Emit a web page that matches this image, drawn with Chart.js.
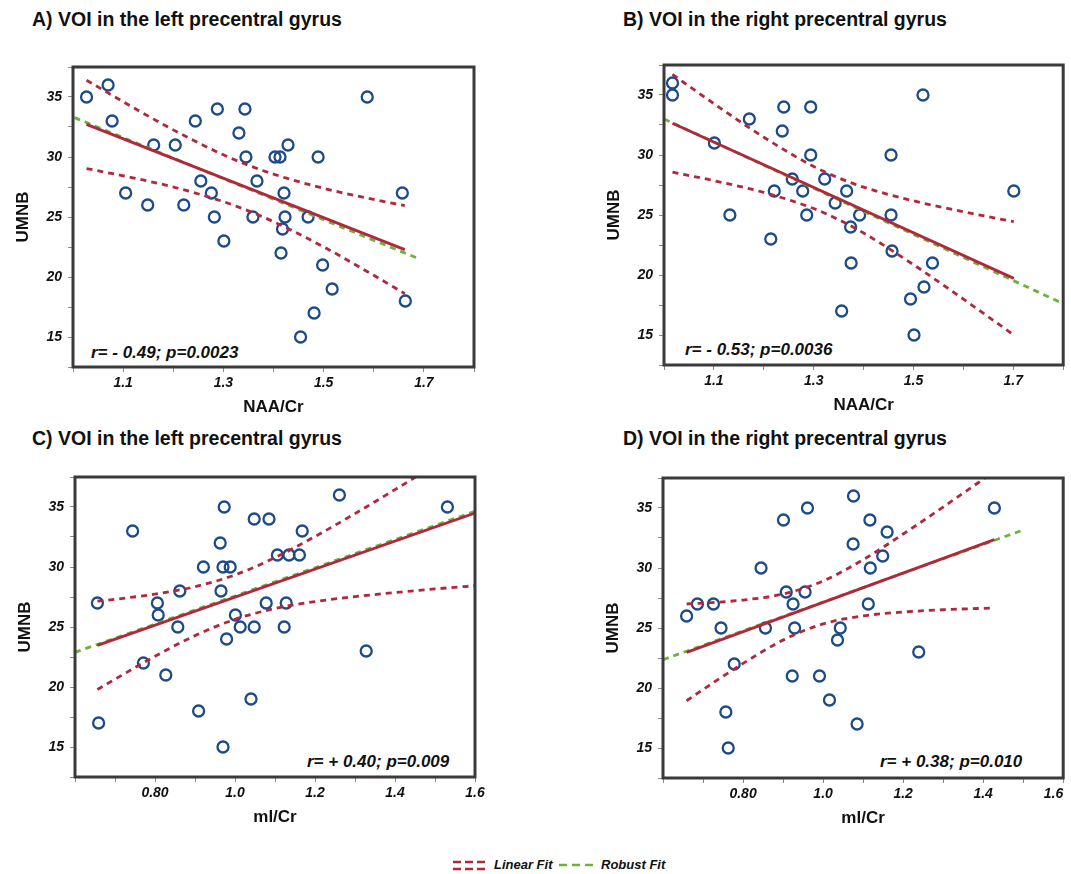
<!DOCTYPE html>
<html><head><meta charset="utf-8">
<script src="https://cdn.jsdelivr.net/npm/chart.js@4.4.1/dist/chart.umd.min.js"></script>
<style>
html,body{margin:0;padding:0;background:#fff}
body{width:1071px;height:874px;position:relative;overflow:hidden;font-family:"Liberation Sans",Arial,sans-serif;color:#111}
.ttl{position:absolute;font-weight:bold;font-size:19.5px;line-height:20px;white-space:nowrap}
.ann{position:absolute;font-weight:bold;font-style:italic;font-size:17px;line-height:18px;white-space:nowrap}
.leg{position:absolute;font-weight:bold;font-style:italic;font-size:13px;line-height:14px;white-space:nowrap}
canvas{position:absolute}
</style></head>
<body>
<div class="ttl" style="left:32px;top:9px">A) VOI in the left precentral gyrus</div>
<div class="ttl" style="left:623px;top:9px">B) VOI in the right precentral gyrus</div>
<div class="ttl" style="left:32px;top:428px">C) VOI in the left precentral gyrus</div>
<div class="ttl" style="left:623px;top:428px">D) VOI in the right precentral gyrus</div>

<div class="ann" style="left:91px;top:344px">r= - 0.49; p=0.0023</div>
<div class="ann" style="left:685px;top:341px">r= - 0.53; p=0.0036</div>
<div class="ann" style="left:307px;top:753px">r= + 0.40; p=0.009</div>
<div class="ann" style="left:880px;top:753px">r= + 0.38; p=0.010</div>

<svg style="position:absolute;left:452px;top:858px" width="38" height="14">
  <line x1="1" y1="4" x2="37" y2="4" stroke="#b0283c" stroke-width="2.5" stroke-dasharray="8,4"/>
  <line x1="1" y1="11" x2="37" y2="11" stroke="#b0283c" stroke-width="2.5" stroke-dasharray="8,4"/>
</svg>
<div class="leg" style="left:494px;top:858px">Linear Fit</div>
<svg style="position:absolute;left:558px;top:858px" width="36" height="14">
  <line x1="1" y1="7" x2="35" y2="7" stroke="#6bb33a" stroke-width="2.5" stroke-dasharray="8,5"/>
</svg>
<div class="leg" style="left:601px;top:858px">Robust Fit</div>

<script>
// ---------- tick labels ----------
const yTickValues = [15, 20, 25, 30, 35];
const xTickValuesNAA = [1.1, 1.3, 1.5, 1.7];
const xTickTextNAA = ['1.1', '1.3', '1.5', '1.7'];
const xTickValuesMI = [0.8, 1.0, 1.2, 1.4, 1.6];
const xTickTextMI = ['0.80', '1.0', '1.2', '1.4', '1.6'];

// ---------- Panel A : left precentral, NAA/Cr ----------
const aX = [1.027,1.070,1.078,1.105,1.149,1.161,1.204,1.221,1.244,1.255,1.276,1.282,1.288,1.301,1.331,1.343,1.345,1.359,1.367,1.403,1.413,1.415,1.418,1.421,1.423,1.429,1.454,1.469,1.481,1.489,1.498,1.517,1.587,1.657,1.663];
const aY = [35,36,33,27,26,31,31,26,33,28,27,25,34,23,32,34,30,25,28,30,30,22,24,27,25,31,15,25,17,30,21,19,35,27,18];
const aFitX = [1.027, 1.662];
const aFitY = [32.72, 22.28];
const aRobX = [1.003, 1.693];
const aRobY = [33.28, 21.47];
const aCiX  = [1.027, 1.1, 1.2, 1.3, 1.35, 1.4, 1.5, 1.6, 1.662];
const aCiUp = [36.40, 34.61, 32.26, 30.18, 29.31, 28.57, 27.39, 26.46, 25.95];
const aCiLo = [29.04, 28.43, 27.50, 26.28, 25.51, 24.61, 22.51, 20.14, 18.61];

// ---------- Panel B : right precentral, NAA/Cr ----------
const bX = [1.017,1.017,1.101,1.132,1.171,1.214,1.221,1.237,1.240,1.257,1.278,1.286,1.294,1.294,1.322,1.343,1.356,1.366,1.374,1.375,1.392,1.455,1.455,1.457,1.494,1.501,1.519,1.521,1.538,1.701];
const bY = [36,35,31,25,33,23,27,32,34,28,27,25,30,34,28,26,17,27,24,21,25,30,25,22,18,15,35,19,21,27];
const bFitX = [1.017, 1.701];
const bFitY = [32.64, 19.72];
const bRobX = [1.0, 1.796];
const bRobY = [33.0, 17.69];
const bCiX  = [1.017, 1.1, 1.2, 1.3, 1.35, 1.4, 1.5, 1.6, 1.701];
const bCiUp = [36.71, 34.28, 31.48, 29.04, 28.09, 27.32, 26.18, 25.27, 24.44];
const bCiLo = [28.57, 27.86, 26.88, 25.54, 24.61, 23.50, 20.86, 17.99, 15.00];

// ---------- Panel C : left precentral, mI/Cr ----------
const cX = [0.656,0.659,0.744,0.771,0.806,0.808,0.827,0.857,0.862,0.909,0.921,0.963,0.965,0.970,0.970,0.973,0.979,0.988,1.001,1.013,1.040,1.048,1.048,1.078,1.085,1.106,1.123,1.128,1.135,1.161,1.168,1.261,1.328,1.531];
const cY = [27,17,33,22,27,26,21,25,28,18,30,32,28,30,15,35,24,30,26,25,19,25,34,27,34,31,25,27,31,31,33,36,23,35];
const cFitX = [0.656, 1.6];
const cFitY = [23.47, 34.50];
const cRobX = [0.6, 1.6];
const cRobY = [22.89, 34.64];
const cCiX  = [0.656, 0.7, 0.8, 0.9, 1.0, 1.1, 1.2, 1.3, 1.4, 1.5, 1.6];
const cCiUp = [27.15, 27.31, 27.74, 28.36, 29.34, 30.78, 32.54, 34.45, 36.45, 38.49, 40.56];
const cCiLo = [19.79, 20.65, 22.56, 24.28, 25.64, 26.54, 27.12, 27.53, 27.87, 28.17, 28.44];

// ---------- Panel D : right precentral, mI/Cr ----------
const dX = [0.659,0.686,0.726,0.745,0.757,0.763,0.778,0.845,0.856,0.901,0.908,0.923,0.925,0.929,0.955,0.961,0.991,1.016,1.036,1.043,1.075,1.076,1.085,1.113,1.117,1.118,1.149,1.160,1.239,1.428];
const dY = [26,27,27,25,18,15,22,30,25,34,28,21,27,25,28,35,21,19,24,25,32,36,17,27,34,30,31,33,23,35];
const dFitX = [0.659, 1.428];
const dFitY = [22.97, 32.36];
const dRobX = [0.6, 1.502];
const dRobY = [22.36, 33.19];
const dCiX  = [0.659, 0.7, 0.8, 0.9, 1.0, 1.1, 1.2, 1.3, 1.428];
const dCiUp = [27.00, 27.07, 27.33, 27.83, 28.92, 30.69, 32.83, 35.08, 38.05];
const dCiLo = [18.94, 19.87, 22.05, 23.99, 25.34, 26.01, 26.33, 26.52, 26.67];

// ---------- styling ----------
const RED = '#b0283c', GREEN = '#6bb33a', BLUE = '#1d4b8a';
Chart.defaults.font.family = '"Liberation Sans", Arial, sans-serif';
Chart.defaults.color = '#111';

const pts = (xs, ys) => xs.map((x, i) => ({x, y: ys[i]}));

const framePlugin = {
  id: 'frame',
  afterDraw(chart) {
    const {ctx, chartArea: a} = chart;
    ctx.save();
    ctx.strokeStyle = '#3a3a3a';
    ctx.lineWidth = 3;
    ctx.strokeRect(a.left, a.top, a.right - a.left, a.bottom - a.top);
    ctx.restore();
  }
};

const PADL = 9, YW = 64, PADT = 10, XH = 55, PADB = 4;

function panel(o) {
  const cv = document.createElement('canvas');
  const w = (o.r - o.l) + PADL + YW + o.pr;
  const h = (o.b - o.t) + PADT + XH + PADB;
  cv.width = w; cv.height = h;
  cv.style.left = (o.l - PADL - YW) + 'px';
  cv.style.top = (o.t - PADT) + 'px';
  cv.style.width = w + 'px'; cv.style.height = h + 'px';
  document.body.appendChild(cv);

  const lineDs = (data, color, dash, extra) => Object.assign({
    type: 'scatter', data, showLine: true, borderColor: color, backgroundColor: color,
    borderWidth: 2.8, borderDash: dash, pointRadius: 0, pointHoverRadius: 0, fill: false
  }, extra || {});

  new Chart(cv, {
    type: 'scatter',
    data: {
      datasets: [
        lineDs(pts(o.ciX, o.ciUp), RED, [6, 5], {cubicInterpolationMode: 'monotone', tension: 0.4}),
        lineDs(pts(o.ciX, o.ciLo), RED, [6, 5], {cubicInterpolationMode: 'monotone', tension: 0.4}),
        lineDs(pts(o.fitX, o.fitY), RED, []),
        lineDs(pts(o.robX, o.robY), GREEN, [6, 5]),
        {
          type: 'scatter', data: pts(o.x, o.y), pointStyle: 'circle', pointRadius: 5.5,
          pointBorderWidth: 2.3, borderWidth: 2.3, borderColor: BLUE, backgroundColor: 'rgba(255,255,255,0)',
          pointBackgroundColor: 'rgba(255,255,255,0)', pointBorderColor: BLUE
        }
      ]
    },
    options: {
      responsive: false, animation: false, devicePixelRatio: 1,
      layout: {padding: {left: PADL, top: PADT, right: o.pr, bottom: PADB}},
      plugins: {legend: {display: false}, tooltip: {enabled: false}},
      scales: {
        x: {
          type: 'linear', min: o.xmin, max: o.xmax,
          grid: {drawOnChartArea: false, drawTicks: true, tickLength: 5, color: '#8a8a8a', lineWidth: 1},
          border: {display: false},
          ticks: {
            stepSize: 0.1, autoSkip: false, maxRotation: 0, padding: 3, align: o.xAlign,
            font: {size: 14, weight: 'bold', style: 'italic'}, color: '#111',
            callback: (v) => {
              const i = o.xVals.findIndex(t => Math.abs(t - v) < 1e-6);
              return i >= 0 ? o.xText[i] : '';
            }
          },
          title: {display: true, text: o.xTitle, font: {size: 17, weight: 'bold'}, color: '#111', padding: {top: 4, bottom: 4}},
          afterFit: (s) => { s.height = XH; s.paddingLeft = 0; s.paddingRight = 0; }
        },
        y: {
          type: 'linear', min: 12.5, max: 37.5,
          grid: {drawOnChartArea: false, drawTicks: true, tickLength: 5, color: '#8a8a8a', lineWidth: 1},
          border: {display: false},
          ticks: {
            stepSize: 2.5, autoSkip: false, padding: 6,
            font: {size: 14, weight: 'bold', style: 'italic'}, color: '#111',
            callback: (v) => yTickValues.some(t => Math.abs(t - v) < 1e-6) ? String(Math.round(v)) : ''
          },
          title: {display: true, text: 'UMNB', font: {size: 17, weight: 'bold'}, color: '#111', padding: {top: 4, bottom: 4}},
          afterFit: (s) => { s.width = YW; s.paddingTop = 0; s.paddingBottom = 0; }
        }
      }
    },
    plugins: [framePlugin]
  });
}

panel({l: 73, t: 67, r: 474, b: 367, pr: 14, xmin: 1.0, xmax: 1.8, xVals: xTickValuesNAA, xText: xTickTextNAA, xAlign: 'center', xTitle: 'NAA/Cr',
  x: aX, y: aY, fitX: aFitX, fitY: aFitY, robX: aRobX, robY: aRobY, ciX: aCiX, ciUp: aCiUp, ciLo: aCiLo});
panel({l: 664, t: 65, r: 1065, b: 365, pr: 6, xmin: 1.0, xmax: 1.8, xVals: xTickValuesNAA, xText: xTickTextNAA, xAlign: 'center', xTitle: 'NAA/Cr',
  x: bX, y: bY, fitX: bFitX, fitY: bFitY, robX: bRobX, robY: bRobY, ciX: bCiX, ciUp: bCiUp, ciLo: bCiLo});
panel({l: 75, t: 477, r: 475, b: 777, pr: 14, xmin: 0.6, xmax: 1.6, xVals: xTickValuesMI, xText: xTickTextMI, xAlign: 'center', xTitle: 'ml/Cr',
  x: cX, y: cY, fitX: cFitX, fitY: cFitY, robX: cRobX, robY: cRobY, ciX: cCiX, ciUp: cCiUp, ciLo: cCiLo});
panel({l: 663, t: 478, r: 1065, b: 778, pr: 6, xmin: 0.6, xmax: 1.6, xVals: xTickValuesMI, xText: xTickTextMI, xAlign: 'inner', xTitle: 'ml/Cr',
  x: dX, y: dY, fitX: dFitX, fitY: dFitY, robX: dRobX, robY: dRobY, ciX: dCiX, ciUp: dCiUp, ciLo: dCiLo});
</script>
</body></html>
